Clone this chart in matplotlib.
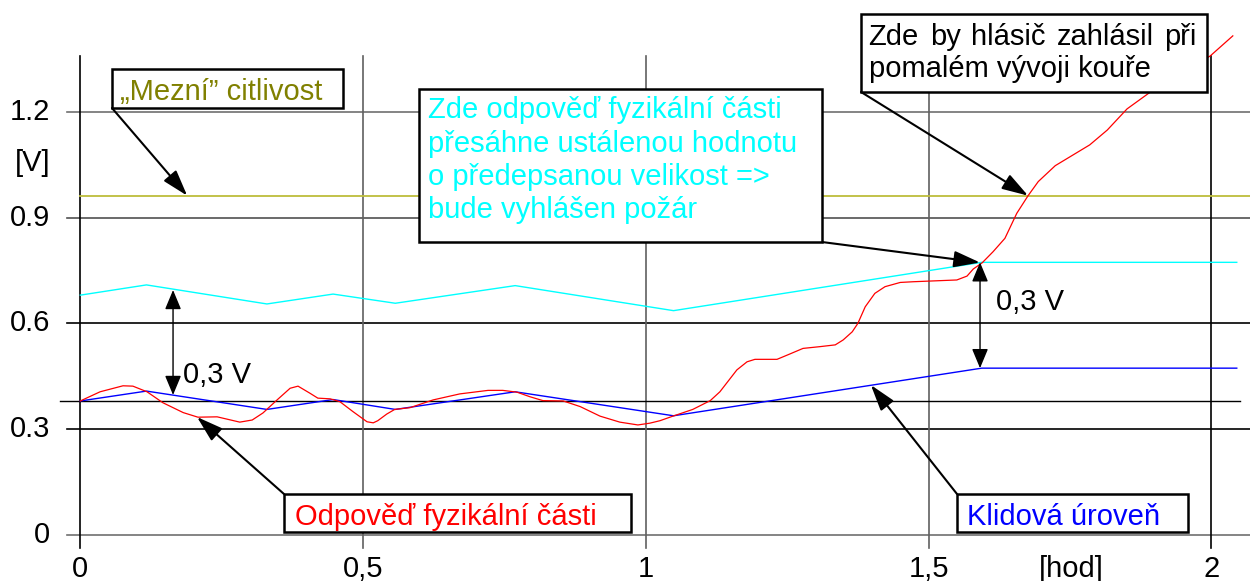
import matplotlib
matplotlib.use("Agg")
import matplotlib.pyplot as plt
from matplotlib.patches import Rectangle

plt.rcParams['font.family'] = ['Liberation Sans', 'DejaVu Sans']

#//////////////////////////////////////////////////////////////////////////////
# DATA

# Odpoved fyzikalni casti (red)
red_x = [0.0, 0.035, 0.0755, 0.093, 0.118, 0.146, 0.182, 0.208, 0.242, 0.282,
         0.304, 0.323, 0.348, 0.371, 0.385, 0.406, 0.420, 0.442, 0.459, 0.482,
         0.507, 0.518, 0.526, 0.542, 0.556, 0.583, 0.624, 0.671, 0.721, 0.747,
         0.772, 0.795, 0.818, 0.854, 0.884, 0.919, 0.954, 0.986, 1.007, 1.025,
         1.048, 1.083, 1.114, 1.131, 1.161, 1.179, 1.193, 1.232, 1.250, 1.278,
         1.308, 1.335, 1.349, 1.365, 1.375, 1.388, 1.405, 1.423, 1.450, 1.473,
         1.550, 1.568, 1.579, 1.595, 1.614, 1.635, 1.656, 1.676, 1.694, 1.724,
         1.785, 1.816, 1.851, 1.895, 1.998, 2.038]
red_y = [0.380, 0.406, 0.423, 0.422, 0.406, 0.375, 0.347, 0.334, 0.335, 0.320,
         0.326, 0.346, 0.383, 0.416, 0.422, 0.402, 0.388, 0.386, 0.378, 0.350,
         0.321, 0.318, 0.324, 0.343, 0.356, 0.361, 0.383, 0.400, 0.410, 0.410,
         0.405, 0.392, 0.381, 0.380, 0.364, 0.337, 0.320, 0.312, 0.317, 0.324,
         0.337, 0.356, 0.381, 0.406, 0.468, 0.491, 0.498, 0.498, 0.510, 0.529,
         0.534, 0.539, 0.553, 0.576, 0.600, 0.647, 0.685, 0.704, 0.716, 0.718,
         0.723, 0.734, 0.754, 0.772, 0.803, 0.841, 0.912, 0.962, 1.002, 1.047,
         1.106, 1.148, 1.208, 1.259, 1.358, 1.415]

# Klidova uroven (blue) and alarm level (cyan)
level_x = [0.0, 0.117, 0.330, 0.447, 0.557, 0.769, 1.049, 1.594, 2.045]
blue_y = [0.380, 0.408, 0.356, 0.384, 0.356, 0.406, 0.338, 0.473, 0.473]
cyan_y = [0.680, 0.709, 0.655, 0.683, 0.657, 0.707, 0.636, 0.773, 0.773]

# "Mezni" citlivost
limit_y = 0.962
ref_y = 0.38

# ticks
x_ticks = [0, 0.5, 1, 1.5, 2]
x_labels = ['0', '0,5', '1', '1,5', '2']
y_ticks = [0, 0.3, 0.6, 0.9, 1.2]
y_labels = ['0', '0.3', '0.6', '0.9', '1.2']

#//////////////////////////////////////////////////////////////////////////////

fig = plt.figure(figsize=(12.5, 5.81), dpi=100)
ax = fig.add_axes([0, 0, 1, 1])
ax.set_xlim(-0.142, 2.0684)
ax.set_ylim(-0.1304, 1.5167)
ax.axis('off')

FS = 21

# grid lines
grid_col_h = {0: '#707070', 0.3: '#000000', 0.6: '#000000', 0.9: '#505050', 1.2: '#707070'}
for yt in y_ticks:
    ax.plot([-0.024, 2.0684], [yt, yt], color=grid_col_h[yt], lw=1.2, zorder=1)
grid_col_v = {0: '#000000', 0.5: '#606060', 1: '#606060', 1.5: '#606060', 2: '#000000'}
for xt in x_ticks:
    ax.plot([xt, xt], [-0.037, 1.358], color=grid_col_v[xt], lw=1.2, zorder=1)
ax.plot([-0.036, 2.051], [ref_y, ref_y], color='black', lw=1.0, zorder=1)

# tick labels
for xt, lab in zip(x_ticks, x_labels):
    ax.text(xt, -0.0964, lab, ha='center', va='center', fontsize=FS)
ax.text(1.752, -0.0964, '[hod]', ha='center', va='center', fontsize=FS)
for yt, lab in zip(y_ticks, y_labels):
    ax.text(-0.0536, yt, lab, ha='right', va='center', fontsize=FS)
ax.text(-0.0836, 1.0546, '[V]', ha='center', va='center', fontsize=FS)

# series
ax.plot([0, 2.0684], [limit_y, limit_y], color='#bdbd3c', lw=1.3, zorder=2)
ax.plot(level_x, cyan_y, color='#00ffff', lw=1.0, zorder=2)
ax.plot(level_x, blue_y, color='#0000ff', lw=1.0, zorder=2)
ax.plot(red_x, red_y, color='#ff0000', lw=0.9, zorder=3)

# double arrows 0,3 V
dbl = dict(arrowstyle='<|-|>,head_length=0.6,head_width=0.25', color='black',
           lw=1.0, shrinkA=0, shrinkB=0, mutation_scale=20)
ax.annotate('', xy=(0.164, 0.6945), xytext=(0.164, 0.397), arrowprops=dbl, zorder=4)
ax.text(0.182, 0.430, '0,3 V', fontsize=FS, va='baseline')
ax.annotate('', xy=(1.591, 0.773), xytext=(1.591, 0.473), arrowprops=dbl, zorder=4)
ax.text(1.619, 0.638, '0,3 V', fontsize=FS, va='baseline')

# callout boxes
def callout(x0, y0, x1, y1, tip, start):
    ax.add_patch(Rectangle((x0, y0), x1 - x0, y1 - y0, facecolor='white',
                           edgecolor='black', lw=1.8, zorder=5))
    ax.annotate('', xy=tip, xytext=start,
                arrowprops=dict(arrowstyle='-|>,head_length=0.8,head_width=0.25',
                                color='black', lw=1.5, shrinkA=0, shrinkB=0,
                                mutation_scale=20), zorder=4)

# justified line of text (word spacing stretched to fill the width)
def justified(x0, x1, y, line, **kw):
    r = fig.canvas.get_renderer()
    words = line.split()
    texts = [ax.text(0, y, w, va='baseline', **kw) for w in words]
    scale = (ax.get_xlim()[1] - ax.get_xlim()[0]) / ax.bbox.width
    widths = [t.get_window_extent(renderer=r).width * scale for t in texts]
    gap = (x1 - x0 - sum(widths)) / (len(words) - 1)
    x = x0
    for t, w in zip(texts, widths):
        t.set_x(x)
        x += w + gap

callout(0.056, 1.2105, 0.4645, 1.321, (0.189, 0.962), (0.056, 1.2105))
ax.text(0.070, 1.2325, '\u201eMezní\u201d citlivost', color='#808000', fontsize=FS,
        va='baseline', zorder=6)

callout(0.599, 0.8306, 1.3116, 1.2644, (1.591, 0.7725), (1.3116, 0.8306))
cyan_lines = ['Zde odpověď fyzikální části', 'přesáhne ustálenou hodnotu',
              'o předepsanou velikost =>', 'bude vyhlášen požár']
for i, line in enumerate(cyan_lines):
    ax.text(0.615, 1.181 - i * 0.0944, line, color='#00ffff', fontsize=FS,
            va='baseline', zorder=6)

callout(1.3805, 1.256, 1.9924, 1.477, (1.676, 0.962), (1.3805, 1.256))
justified(1.394, 1.974, 1.389, 'Zde by hlásič zahlásil při', fontsize=FS, zorder=6)
ax.text(1.394, 1.299, 'pomalém vývoji kouře', fontsize=FS, va='baseline', zorder=6)

callout(0.3602, 0.0085, 0.9738, 0.1162, (0.2064, 0.3345), (0.3602, 0.1162))
ax.text(0.379, 0.028, 'Odpověď fyzikální části', color='#ff0000', fontsize=FS,
        va='baseline', zorder=6)

callout(1.5503, 0.0085, 1.9588, 0.1162, (1.398, 0.4252), (1.5503, 0.1162))
ax.text(1.5675, 0.028, 'Klidová úroveň', color='#0000ff', fontsize=FS,
        va='baseline', zorder=6)

fig.savefig('out.png', dpi=100)
